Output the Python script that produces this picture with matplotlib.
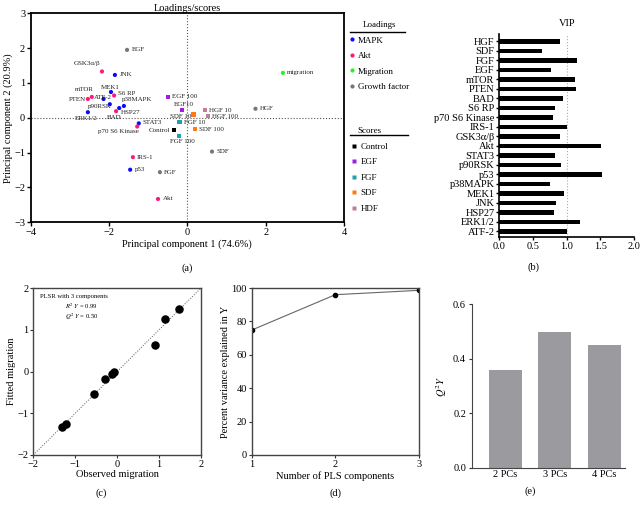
import numpy as np
import matplotlib
matplotlib.use('Agg')
import matplotlib.pyplot as plt
from matplotlib.lines import Line2D

plt.rcParams['font.family'] = ['Liberation Serif', 'DejaVu Serif']
plt.rcParams['mathtext.fontset'] = 'stix'

# --- (a) loadings / scores ---
load_names = ['EGF', 'GSK3α/β', 'JNK', 'MEK1', 'S6 RP', 'mTOR', 'PTEN', 'ATF-2',
              'p90RSK', 'p38MAPK', 'HSP27', 'BAD', 'ERK1/2', 'STAT3', 'p70 S6 Kinase',
              'IRS-1', 'p53', 'FGF', 'Akt', 'SDF', 'HGF', 'migration']
load_x = [-1.54, -2.18, -1.85, -1.95, -1.87, -2.44, -2.54, -2.14, -1.98, -1.62, -1.74,
          -1.82, -2.54, -1.24, -1.28, -1.39, -1.46, -0.70, -0.75, 0.63, 1.74, 2.44]
load_y = [1.95, 1.33, 1.23, 0.74, 0.64, 0.60, 0.54, 0.54, 0.39, 0.34, 0.28,
          0.19, 0.16, -0.16, -0.25, -1.13, -1.49, -1.56, -2.33, -0.97, 0.26, 1.29]
load_group = ['Growth factor', 'Akt', 'MAPK', 'MAPK', 'Akt', 'Akt', 'Akt', 'MAPK',
              'MAPK', 'MAPK', 'MAPK', 'Akt', 'MAPK', 'MAPK', 'Akt',
              'Akt', 'MAPK', 'Growth factor', 'Akt', 'Growth factor', 'Growth factor', 'Migration']

score_names = ['EGF 100', 'EGF10', 'HGF 10', 'HGF 100', 'SDF 10', 'SDF 100', 'FGF 10', 'FGF 100', 'Control']
score_x = [-0.49, -0.14, 0.45, 0.53, 0.16, 0.20, -0.20, -0.22, -0.34]
score_y = [0.60, 0.22, 0.22, 0.05, 0.10, -0.33, -0.12, -0.52, -0.35]
score_group = ['EGF', 'EGF', 'HDF', 'HDF', 'SDF', 'SDF', 'FGF', 'FGF', 'Control']

load_colors = {'MAPK': '#0a0aff', 'Akt': '#ff1a7a', 'Migration': '#2bef2b', 'Growth factor': '#777777'}
score_colors = {'Control': '#000000', 'EGF': '#a01ee0', 'FGF': '#1f9fb0', 'SDF': '#ff7b0f', 'HDF': '#c67b9c'}

# label offsets (pixels, ha)
offsets = {
    'EGF': (5, 0, 'left'), 'GSK3α/β': (-2, 8, 'right'), 'JNK': (5, 0, 'left'),
    'MEK1': (-1, 5, 'center'), 'S6 RP': (4, 2, 'left'), 'mTOR': (2, 7, 'right'),
    'PTEN': (-2, -1, 'right'), 'ATF-2': (-1, 1.5, 'center'), 'p90RSK': (2, -2, 'right'),
    'p38MAPK': (-2, 6, 'left'), 'HSP27': (2, -4, 'left'), 'BAD': (-2, -6, 'center'),
    'ERK1/2': (-2, -6, 'center'), 'STAT3': (4, 1, 'left'), 'p70 S6 Kinase': (2, -5, 'right'),
    'IRS-1': (4, 0, 'left'), 'p53': (5, 0, 'left'), 'FGF': (4, 0, 'left'), 'Akt': (5, 0, 'left'),
    'SDF': (4, 0, 'left'), 'HGF': (4, 0, 'left'), 'migration': (4, 0, 'left'),
    'EGF 100': (4, 0, 'left'), 'EGF10': (2, 6, 'center'), 'HGF 10': (4, 0, 'left'),
    'HGF 100': (4, 0, 'left'), 'SDF 10': (-2, -2, 'right'), 'SDF 100': (4, 0, 'left'),
    'FGF 10': (4, -1, 'left'), 'FGF 100': (4, -6, 'center'), 'Control': (-4, -1, 'right'),
}

# --- (b) VIP ---
vip_names = ['HGF', 'SDF', 'FGF', 'EGF', 'mTOR', 'PTEN', 'BAD', 'S6 RP', 'p70 S6 Kinase',
             'IRS-1', 'GSK3α/β', 'Akt', 'STAT3', 'p90RSK', 'p53', 'p38MAPK', 'MEK1',
             'JNK', 'HSP27', 'ERK1/2', 'ATF-2']
vip_values = [0.90, 0.63, 1.15, 0.77, 1.13, 1.14, 0.94, 0.82, 0.79, 1.00, 0.90,
              1.51, 0.83, 0.92, 1.52, 0.75, 0.96, 0.84, 0.81, 1.20, 1.00]

# --- (c) observed vs fitted ---
obs_migration = [1.48, 1.14, 0.91, -0.08, -0.12, -0.28, -0.55, -1.22, -1.32]
fit_migration = [1.49, 1.25, 0.64, 0.00, -0.06, -0.19, -0.54, -1.26, -1.33]

# --- (d) variance explained ---
n_components = [1, 2, 3]
pct_var = [74.8, 96.0, 98.6]

# --- (e) Q2Y ---
pc_labels = ['2 PCs', '3 PCs', '4 PCs']
q2y = [0.358, 0.497, 0.451]

W, H = 640, 505
fig = plt.figure(figsize=(6.4, 5.05), dpi=100)


def box(l, r, t, b):
    return [l / W, 1 - b / H, (r - l) / W, (b - t) / H]


FS = 7.5
SMALL = 5

# ---------- panel a ----------
ax = fig.add_axes(box(30.7, 344, 13.3, 222.3))
ax.axvline(0, color='#555555', ls=':', lw=0.8, zorder=1)
ax.axhline(0, color='#555555', ls=':', lw=0.8, zorder=1)
ax.scatter(load_x, load_y, c=[load_colors[g] for g in load_group], s=9, zorder=3, lw=0)
ax.scatter(score_x, score_y, c=[score_colors[g] for g in score_group], s=10, marker='s', zorder=3, lw=0)
for n, x, y in list(zip(load_names, load_x, load_y)) + list(zip(score_names, score_x, score_y)):
    dx, dy, ha = offsets[n]
    ax.annotate(n, (x, y), xytext=(dx, dy), textcoords='offset pixels', ha=ha, va='center',
                fontsize=SMALL, color='#222222', zorder=4)
ax.set_xlim(-4, 4)
ax.set_ylim(-3, 3)
ax.set_xticks([-4, -2, 0, 2, 4])
ax.set_yticks([-3, -2, -1, 0, 1, 2, 3])
ax.set_xticklabels(['\u22124', '\u22122', '0', '2', '4'])
ax.set_yticklabels(['\u22123', '\u22122', '\u22121', '0', '1', '2', '3'])
ax.tick_params(labelsize=FS, length=3, width=1, pad=1)
for s in ax.spines.values():
    s.set_linewidth(1.3)
ax.set_title('Loadings/scores', fontsize=FS, pad=2)
ax.set_xlabel('Principal component 1 (74.6%)', fontsize=FS, labelpad=2)
ax.set_ylabel('Principal component 2 (20.9%)', fontsize=FS, labelpad=1)

h1 = [Line2D([], [], ls='', marker='o', ms=3, mec='none', mfc=c) for c in load_colors.values()]
fig.legend(h1, list(load_colors.keys()), loc='upper left', bbox_to_anchor=(349 / W, 1 - 21 / H),
           frameon=False, fontsize=6.5, title='Loadings', title_fontsize=6.5,
           handlelength=0.6, handletextpad=0.4, labelspacing=0.8, borderaxespad=0, borderpad=0)
h2 = [Line2D([], [], ls='', marker='s', ms=3, mec='none', mfc=c) for c in score_colors.values()]
fig.legend(h2, list(score_colors.keys()), loc='upper left', bbox_to_anchor=(349 / W, 1 - 125 / H),
           frameon=False, fontsize=6.5, title='Scores', title_fontsize=6.5,
           handlelength=0.6, handletextpad=0.4, labelspacing=0.8, borderaxespad=0, borderpad=0.25)
fig.add_artist(Line2D([350 / W, 405 / W], [1 - 32.3 / H] * 2, color='black', lw=1))
fig.add_artist(Line2D([350 / W, 408 / W], [1 - 135 / H] * 2, color='black', lw=1))
fig.text(187 / W, 1 - 268 / H, '(a)', fontsize=FS, ha='center', va='center')

# ---------- panel b ----------
bx = fig.add_axes(box(499.3, 634, 34.3, 236.7))
ypos = np.arange(len(vip_names))[::-1]
bx.barh(ypos, vip_values, height=0.5, color='black')
bx.axvline(1.0, color='#aaaaaa', ls=':', lw=0.8, zorder=0)
bx.set_yticks(ypos)
bx.set_yticklabels(vip_names)
bx.set_ylim(-0.55, 20.75)
bx.set_xlim(0, 2)
bx.set_xticks([0, 0.5, 1.0, 1.5, 2.0])
bx.set_xticklabels(['0.0', '0.5', '1.0', '1.5', '2.0'])
bx.tick_params(labelsize=FS, length=2.5, width=1, pad=1)
bx.spines[['top', 'right']].set_visible(False)
for s in ['left', 'bottom']:
    bx.spines[s].set_linewidth(1.2)
bx.set_title('VIP', fontsize=FS, pad=6)
fig.text(534 / W, 1 - 267 / H, '(b)', fontsize=FS, ha='center', va='center')

# ---------- panel c ----------
cx = fig.add_axes(box(33.3, 201, 288, 455))
cx.plot([-2, 2], [-2, 2], ls=':', color='#555555', lw=0.7)
cx.scatter(obs_migration, fit_migration, s=26, color='black', zorder=3)
cx.set_xlim(-2, 2)
cx.set_ylim(-2, 2)
cx.set_xticks([-2, -1, 0, 1, 2])
cx.set_yticks([-2, -1, 0, 1, 2])
cx.set_xticklabels(['\u22122', '\u22121', '0', '1', '2'])
cx.set_yticklabels(['\u22122', '\u22121', '0', '1', '2'])
cx.tick_params(labelsize=FS, length=2.5, width=0.8, pad=1, colors='#333333', labelcolor='black')
for s in cx.spines.values():
    s.set_color('#444444')
    s.set_linewidth(1)
cx.set_xlabel('Observed migration', fontsize=FS, labelpad=1)
cx.set_ylabel('Fitted migration', fontsize=FS, labelpad=1)
cx.text(0.04, 0.95, 'PLSR with 3 components', transform=cx.transAxes, fontsize=4.8, va='center')
cx.text(0.29, 0.89, r'$R^2\ Y$ = 0.99', transform=cx.transAxes, fontsize=4.8, ha='center', va='center')
cx.text(0.29, 0.83, r'$Q^2\ Y$ = 0.50', transform=cx.transAxes, fontsize=4.8, ha='center', va='center')
fig.text(101 / W, 1 - 493 / H, '(c)', fontsize=FS, ha='center', va='center')

# ---------- panel d ----------
dx_ = fig.add_axes(box(251.7, 419, 288, 455))
dx_.plot(n_components, pct_var, color='#666666', lw=0.8, marker='o', ms=3, mfc='black', mec='black')
dx_.set_xlim(1, 3)
dx_.set_ylim(0, 100)
dx_.set_xticks([1, 2, 3])
dx_.set_yticks([0, 20, 40, 60, 80, 100])
dx_.tick_params(labelsize=FS, length=2.5, width=0.8, pad=1, colors='#333333', labelcolor='black')
for s in dx_.spines.values():
    s.set_color('#444444')
    s.set_linewidth(1)
dx_.set_xlabel('Number of PLS components', fontsize=FS, labelpad=2)
dx_.set_ylabel('Percent variance explained in Y', fontsize=FS, labelpad=1)
fig.text(335 / W, 1 - 493 / H, '(d)', fontsize=FS, ha='center', va='center')

# ---------- panel e ----------
ex = fig.add_axes(box(472.3, 625, 304.2, 467.7))
ex.bar(np.arange(len(pc_labels)), q2y, width=0.67, color='#9a9a9f')
ex.set_xlim(-0.67, 2.42)
ex.set_ylim(0, 0.6)
ex.set_xticks(np.arange(len(pc_labels)))
ex.set_xticklabels(pc_labels)
ex.set_yticks([0, 0.2, 0.4, 0.6])
ex.set_yticklabels(['0.0', '0.2', '0.4', '0.6'])
ex.tick_params(labelsize=FS, length=2.5, width=0.8, pad=2, colors='#333333', labelcolor='black')
ex.tick_params(axis='x', length=0)
ex.spines[['top', 'right']].set_visible(False)
for s in ['left', 'bottom']:
    ex.spines[s].set_color('#444444')
ex.set_ylabel(r'$Q^2Y$', fontsize=FS, labelpad=3)
fig.text(530 / W, 1 - 491 / H, '(e)', fontsize=FS, ha='center', va='center')

fig.savefig('out.png', dpi=100)
